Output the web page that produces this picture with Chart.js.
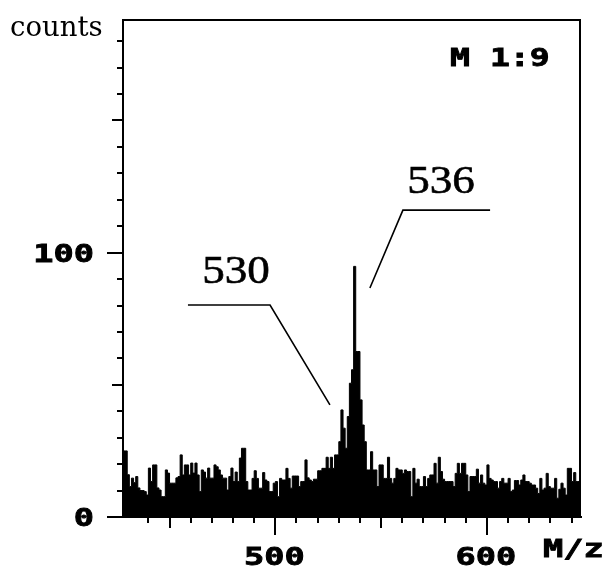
<!DOCTYPE html>
<html>
<head>
<meta charset="utf-8">
<script src="https://cdn.jsdelivr.net/npm/chart.js@4/dist/chart.umd.min.js"></script>
<style>
html,body{margin:0;padding:0;background:#fff;}
canvas{display:block;}
</style>
</head>
<body>
<canvas id="c" width="605" height="568"></canvas>
<script>
// ---- data ----
const mzFirst = 428;      // m/z of the first bin
const mzLast = 644;       // m/z at the right edge
const counts = [
  25, 25, 16, 11.5, 14.7, 13, 15.3, 11, 10, 10,
  9.6, 8.3, 18.5, 13.4, 19.7, 19.7, 11, 10.2, 7.7, 7.7,
  17.8, 16.6, 12.8, 12.8, 12.8, 14.8, 15.3, 23.5, 15.9, 19.7,
  19.7, 15.9, 20.4, 16.6, 20.4, 15.9, 9.6, 17.8, 17, 14.7,
  18.5, 14.7, 14.7, 19.7, 19, 17.8, 15.9, 14.7, 14.7, 10.2,
  15.3, 18.5, 13.4, 17, 13.4, 22.3, 26, 26, 13.4, 10.2,
  10.2, 14.6, 17.5, 14.6, 10.9, 10.9, 16.8, 14, 13.4, 9.6,
  9.6, 12.8, 13.4, 7.7, 14.6, 14, 14, 18.4, 14.6, 10.9,
  15.5, 15.5, 15.5, 11.5, 13.4, 13.4, 21.6, 14.8, 14, 13.4,
  14.3, 14.3, 17.5, 17.5, 18.4, 18.4, 22.6, 18.4, 22.6, 18.4,
  23.5, 23.5, 28.5, 40.5, 33.6, 26, 38, 50.6, 55.7, 94.8,
  62.6, 62.6, 44.3, 34.8, 28.5, 17.8, 17.8, 24.7, 17.8, 17.8,
  11.5, 19.7, 19.7, 14.6, 14.6, 22.6, 14.6, 12.8, 14.6, 18.4,
  17.8, 17.8, 16.5, 17.8, 17.2, 17.2, 7.7, 18.4, 12.8, 14.3,
  11.5, 11.5, 15.3, 11.5, 14.6, 15.9, 15.9, 20.3, 12.8, 22.6,
  17.2, 14.3, 13.4, 13.4, 13.4, 13.4, 11.5, 16.5, 20.3, 16.5,
  20.3, 20.3, 15.9, 9.6, 15.3, 15.3, 15.3, 18.1, 12.8, 15.9,
  12.8, 12.1, 19.7, 14.6, 14, 13.4, 13.4, 10.9, 13.4, 14.6,
  12.8, 12.8, 14.6, 9.6, 10.2, 13.8, 13.8, 12.1, 14, 15.9,
  13.4, 13.4, 12.8, 12.1, 12.1, 10.9, 8.9, 14.6, 10.2, 10.9,
  16.5, 11.5, 10.9, 10.9, 14.6, 7.1, 10.5, 12.8, 10.9, 8.3,
  18.4, 18.4, 13.4, 16.8, 13.4, 13.4
];
const yMax = 188;
const yTickValues = [10,20,30,40,50,60,70,80,90,100,110,120,130,140,150,160,170,180];
const yTickLabels = [0, 100];
const xTickValues = [440,450,460,470,480,490,500,510,520,530,540,550,560,570,580,590,600,610,620,630,640];
const xTickLabels = [500, 600];
const peakLabels = ['530', '536'];

// annotation geometry (data coordinates)
const ann530 = { text: [481.4, 88.5], line: [[458.7, 80.2], [497.5, 80.2], [525.8, 42.4]] };
const ann536 = { text: [578.3, 122.4], line: [[601.5, 116.1], [560.3, 116.1], [544.7, 86.6]] };

// ---- build points (bin start m/z, count) ----
const points = counts.map((v, i) => ({ x: mzFirst + i, y: v }));
points.push({ x: mzLast, y: counts[counts.length - 1] });

function txt(ctx, s, x, y, font, sx, align, bold) {
  ctx.save();
  ctx.font = font;
  ctx.fillStyle = '#000';
  ctx.strokeStyle = '#000';
  ctx.textBaseline = 'alphabetic';
  ctx.textAlign = 'left';
  const w = ctx.measureText(s).width * sx;
  let left = x;
  if (align === 'center') left = x - w / 2;
  else if (align === 'right') left = x - w;
  ctx.translate(left, y);
  ctx.scale(sx, 1);
  ctx.fillText(s, 0, 0);
  if (bold) { ctx.lineWidth = bold; ctx.strokeText(s, 0, 0); }
  ctx.restore();
}

const MONO = 'bold 24px "DejaVu Sans Mono"';
const SERIF = '41px "Liberation Serif"';

const axesPlugin = {
  id: 'axesPlugin',
  afterDraw(chart) {
    const ctx = chart.ctx;
    const a = chart.chartArea;
    const xs = chart.scales.x, ys = chart.scales.y;
    ctx.save();
    ctx.strokeStyle = '#000';
    ctx.lineWidth = 2;
    ctx.lineCap = 'butt';
    // frame
    ctx.beginPath();
    ctx.moveTo(a.left, a.bottom);
    ctx.lineTo(a.left, a.top);
    ctx.lineTo(a.right, a.top);
    ctx.lineTo(a.right, a.bottom);
    ctx.stroke();
    // baseline
    ctx.beginPath();
    ctx.moveTo(a.left - 16, a.bottom);
    ctx.lineTo(a.right + 2, a.bottom);
    ctx.stroke();
    // y ticks
    yTickValues.forEach(v => {
      const py = Math.round(ys.getPixelForValue(v));
      const len = v % 100 === 0 ? 16 : (v % 50 === 0 ? 11 : 6);
      ctx.beginPath();
      ctx.moveTo(a.left - len, py);
      ctx.lineTo(a.left, py);
      ctx.stroke();
    });
    // x ticks
    xTickValues.forEach(v => {
      const px = Math.round(xs.getPixelForValue(v));
      const len = v % 100 === 0 ? 18 : (v % 50 === 0 ? 11 : 6);
      ctx.beginPath();
      ctx.moveTo(px, a.bottom);
      ctx.lineTo(px, a.bottom + len);
      ctx.stroke();
    });
    // tick labels
    yTickLabels.forEach(v => {
      const py = ys.getPixelForValue(v);
      txt(ctx, String(v), a.left - 29, py + 9, MONO, 1.4, 'right', 0.8);
    });
    xTickLabels.forEach(v => {
      const px = xs.getPixelForValue(v);
      txt(ctx, String(v), px - 1, 565, MONO, 1.4, 'center', 0.8);
    });
    // axis titles
    txt(ctx, 'M/z', 543, 557, MONO, 1.4, 'left', 0.8);
    txt(ctx, 'counts', 10, 36, '27px "DejaVu Serif"', 1.02, 'left', 0);
    txt(ctx, 'M 1:9', 450, 66, MONO, 1.38, 'left', 0.8);

    // annotations
    ctx.lineWidth = 1.6;
    [ann530, ann536].forEach((an, i) => {
      ctx.beginPath();
      an.line.forEach((p, j) => {
        const px = xs.getPixelForValue(p[0]);
        const py = ys.getPixelForValue(p[1]);
        if (j === 0) ctx.moveTo(px, py); else ctx.lineTo(px, py);
      });
      ctx.stroke();
      txt(ctx, peakLabels[i], xs.getPixelForValue(an.text[0]), ys.getPixelForValue(an.text[1]), SERIF, 1.1, 'center', 0.6);
    });
    ctx.restore();
  }
};

new Chart(document.getElementById('c').getContext('2d'), {
  type: 'line',
  data: {
    datasets: [{
      data: points,
      stepped: 'before',
      fill: 'origin',
      backgroundColor: '#000',
      borderColor: '#000',
      borderWidth: 1,
      pointRadius: 0,
      tension: 0
    }]
  },
  options: {
    responsive: false,
    animation: false,
    devicePixelRatio: 1,
    layout: { padding: { left: 123, top: 20, right: 25, bottom: 51 } },
    plugins: { legend: { display: false }, tooltip: { enabled: false } },
    scales: {
      x: { type: 'linear', min: mzFirst, max: mzLast, display: false },
      y: { type: 'linear', min: 0, max: yMax, display: false }
    }
  },
  plugins: [axesPlugin]
});
</script>
</body>
</html>
